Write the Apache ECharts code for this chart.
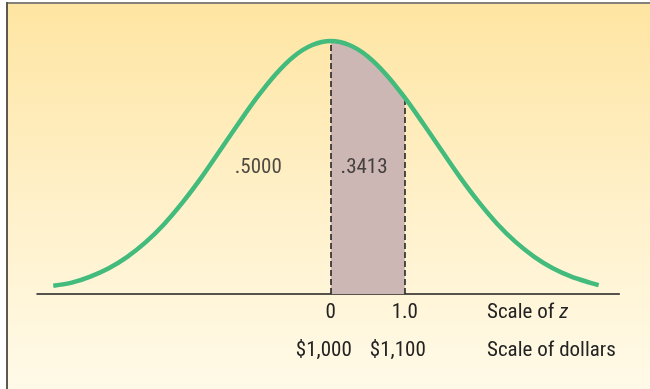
<!DOCTYPE html>
<html>
<head>
<meta charset="utf-8">
<script src="https://cdn.jsdelivr.net/npm/echarts@6/dist/echarts.min.js"></script>
<style>html,body{margin:0;padding:0;background:#fff;}#c{width:650px;height:389px;}</style>
</head>
<body>
<div id="c"></div>
<script>
// z positions along the curve (scale of z) and curve heights (relative to peak)
var curveZ = [-3.75, -3.5, -3.25, -3.0, -2.75, -2.5, -2.25, -2.0, -1.75, -1.5, -1.25, -1.0, -0.75, -0.5, -0.25, 0, 0.25, 0.5, 0.75, 1.0, 1.25, 1.5, 1.75, 2.0, 2.25, 2.5, 2.75, 3.0, 3.25, 3.5, 3.62];
var curveH = [0.033, 0.045, 0.069, 0.102, 0.147, 0.205, 0.277, 0.363, 0.460, 0.566, 0.673, 0.776, 0.867, 0.939, 0.984, 1.0, 0.984, 0.939, 0.867, 0.776, 0.673, 0.566, 0.460, 0.363, 0.277, 0.205, 0.147, 0.102, 0.069, 0.045, 0.035];
// shaded region bounds (z)
var shadeFrom = 0;
var shadeTo = 1.0;
// tick labels
var zTicks = [0, 1.0];
var zTickLabels = ['0', '1.0'];
var dollarLabels = ['$1,000', '$1,100'];
// area labels: [z, height, text]
var areaLabels = [[-0.98, 0.50, '.5000'], [0.45, 0.50, '.3413']];
var scaleNames = ['Scale of ', 'z', 'Scale of dollars'];

var FONT = '"Liberation Sans Narrow", "Arial Narrow", "Roboto Condensed", "Liberation Sans", sans-serif';
var TXT = '#222222';
var FS = 21;

var curve = curveZ.map(function (z, i) { return [z, curveH[i]]; });
var shade = curve.filter(function (p) { return p[0] >= shadeFrom && p[0] <= shadeTo; });
var hAt = function (z) { return curveH[curveZ.indexOf(z)]; };

var chart = echarts.init(document.getElementById('c'), null, {renderer: 'canvas'});
chart.setOption({
  animation: false,
  backgroundColor: '#ffffff',
  graphic: [
    {type: 'rect', z: -10, shape: {x: 8, y: 4, width: 642, height: 385},
      style: {fill: new echarts.graphic.LinearGradient(0, 0, 0, 1, [
        {offset: 0, color: '#fee5a2'}, {offset: 0.5, color: '#fff0c8'}, {offset: 1, color: '#fffae8'}])}},
    {type: 'rect', z: -9, shape: {x: 6, y: 2, width: 644, height: 2}, style: {fill: '#85817b'}},
    {type: 'rect', z: -9, shape: {x: 6, y: 2, width: 2, height: 387}, style: {fill: '#5d5850'}},
    {type: 'text', z: 100, left: 487, top: 302,
      style: {text: '{a|' + scaleNames[0] + '}{b|' + scaleNames[1] + '}', fill: TXT,
        rich: {a: {fontFamily: FONT, fontSize: FS, fill: TXT}, b: {fontFamily: FONT, fontSize: FS, fontStyle: 'italic', fill: TXT}}}},
    {type: 'text', z: 100, left: 487, top: 340,
      style: {text: scaleNames[2], fill: TXT, font: FS + 'px ' + FONT}}
  ],
  grid: {left: 37, right: 30.6, top: 41, bottom: 95, containLabel: false},
  xAxis: [
    {type: 'value', min: -3.97, max: 3.9, splitLine: {show: false},
      axisLine: {show: true, onZero: false, lineStyle: {color: '#1e1e1e', width: 1.5}},
      axisTick: {show: false},
      axisLabel: {show: true, customValues: zTicks, margin: 8, color: TXT, fontFamily: FONT, fontSize: FS,
        formatter: function (v) { return zTickLabels[zTicks.indexOf(v)]; }}},
    {type: 'value', min: -3.97, max: 3.9, position: 'bottom', offset: 38, splitLine: {show: false},
      axisLine: {show: false}, axisTick: {show: false},
      axisLabel: {show: true, customValues: zTicks, margin: 8, color: TXT, fontFamily: FONT, fontSize: FS,
        formatter: function (v) { return '{d|' + dollarLabels[zTicks.indexOf(v)] + '}'; },
        rich: {d: {fontFamily: FONT, fontSize: FS, color: TXT, padding: [0, 14, 0, 0]}}}}
  ],
  yAxis: {type: 'value', min: 0, max: 1, show: false},
  series: [
    {type: 'line', data: shade, smooth: 0.3, symbol: 'none', lineStyle: {width: 0}, clip: false, z: 2,
      areaStyle: {color: '#cdb7b4', opacity: 1},
      markLine: {silent: true, symbol: ['none', 'none'], label: {show: false},
        lineStyle: {color: '#1a1a1a', type: [6, 3], width: 1.5},
        data: [
          [{coord: [shadeFrom, 0]}, {coord: [shadeFrom, hAt(shadeFrom)]}],
          [{coord: [shadeTo, 0]}, {coord: [shadeTo, hAt(shadeTo)]}]
        ]}},
    {type: 'line', data: curve, smooth: 0.3, symbol: 'none', clip: false, z: 5,
      lineStyle: {color: '#42bb7c', width: 4.5, cap: 'butt'}},
    {type: 'scatter', data: areaLabels.map(function (a) { return [a[0], a[1], a[2]]; }),
      symbolSize: 0, z: 6, silent: true,
      label: {show: true, position: 'inside', color: TXT, fontFamily: FONT, fontSize: FS,
        formatter: function (p) { return p.data[2]; }}}
  ]
});
</script>
</body>
</html>
